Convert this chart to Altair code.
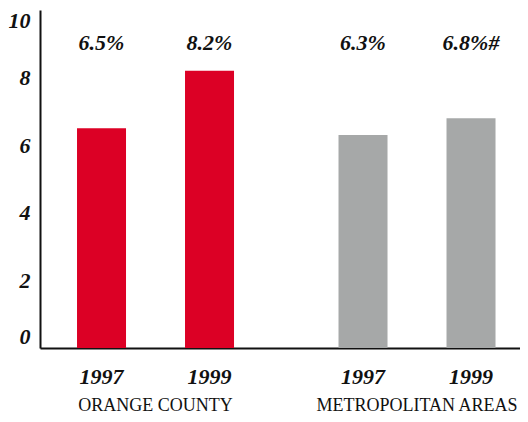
import altair as alt
import pandas as pd

groups = ["Orange County", "Orange County", "Metropolitan Areas", "Metropolitan Areas"]
years = ["1997", "1999", "1997", "1999"]
values = [6.5, 8.2, 6.3, 6.8]
labels = ["6.5%", "8.2%", "6.3%", "6.8%#"]
group_order = ["Orange County", "Metropolitan Areas"]
y_ticks = [0, 2, 4, 6, 8, 10]

df = pd.DataFrame({"group": groups, "year": years, "value": values, "label": labels})

SERIF = "Liberation Serif"
W, H = 480, 338

x = alt.X("group:N", sort=group_order, title=None,
          scale=alt.Scale(paddingInner=0.317, paddingOuter=0.0763, align=0.657),
          axis=alt.Axis(ticks=False, labelPadding=48, labelFont=SERIF, labelFontSize=18,
                        labelFontWeight="normal", labelColor="#111", labelAngle=0, labelLimit=0,
                        labelExpr="upper(datum.label)", domainColor="#111", domainWidth=2))
xo = alt.XOffset("year:N", scale=alt.Scale(paddingInner=0.5463, paddingOuter=0.1))

base = alt.Chart(df)

bars = base.mark_bar().encode(
    x=x, xOffset=xo,
    y=alt.Y("value:Q", scale=alt.Scale(domain=[0, 10], nice=False), title=None,
            axis=alt.Axis(values=y_ticks, labelFlush=True, ticks=False, grid=False,
                          domainColor="#111", domainWidth=2, labelPadding=10,
                          labelFont=SERIF, labelFontSize=22, labelFontStyle="italic",
                          labelFontWeight="bold", labelColor="#111")),
    color=alt.Color("group:N", scale=alt.Scale(domain=group_order, range=["#DC0025", "#A6A8A8"]),
                    legend=None),
)

pct = base.mark_text(font=SERIF, fontSize=22, fontStyle="italic", fontWeight="bold",
                     color="#111", baseline="middle").encode(
    x=x, xOffset=xo, y=alt.value(33), text="label:N")

yrs = base.mark_text(font=SERIF, fontSize=22, fontStyle="italic", fontWeight="bold",
                     color="#111", baseline="middle").encode(
    x=x, xOffset=xo, y=alt.value(H + 29), text="year:N")

chart = alt.layer(bars, pct, yrs).properties(
    width=W, height=H,
    padding={"left": 0, "top": 1, "right": 0, "bottom": 0},
).configure_view(stroke=None)

chart.save("out.html", embed_options={"renderer": "svg", "actions": False})
